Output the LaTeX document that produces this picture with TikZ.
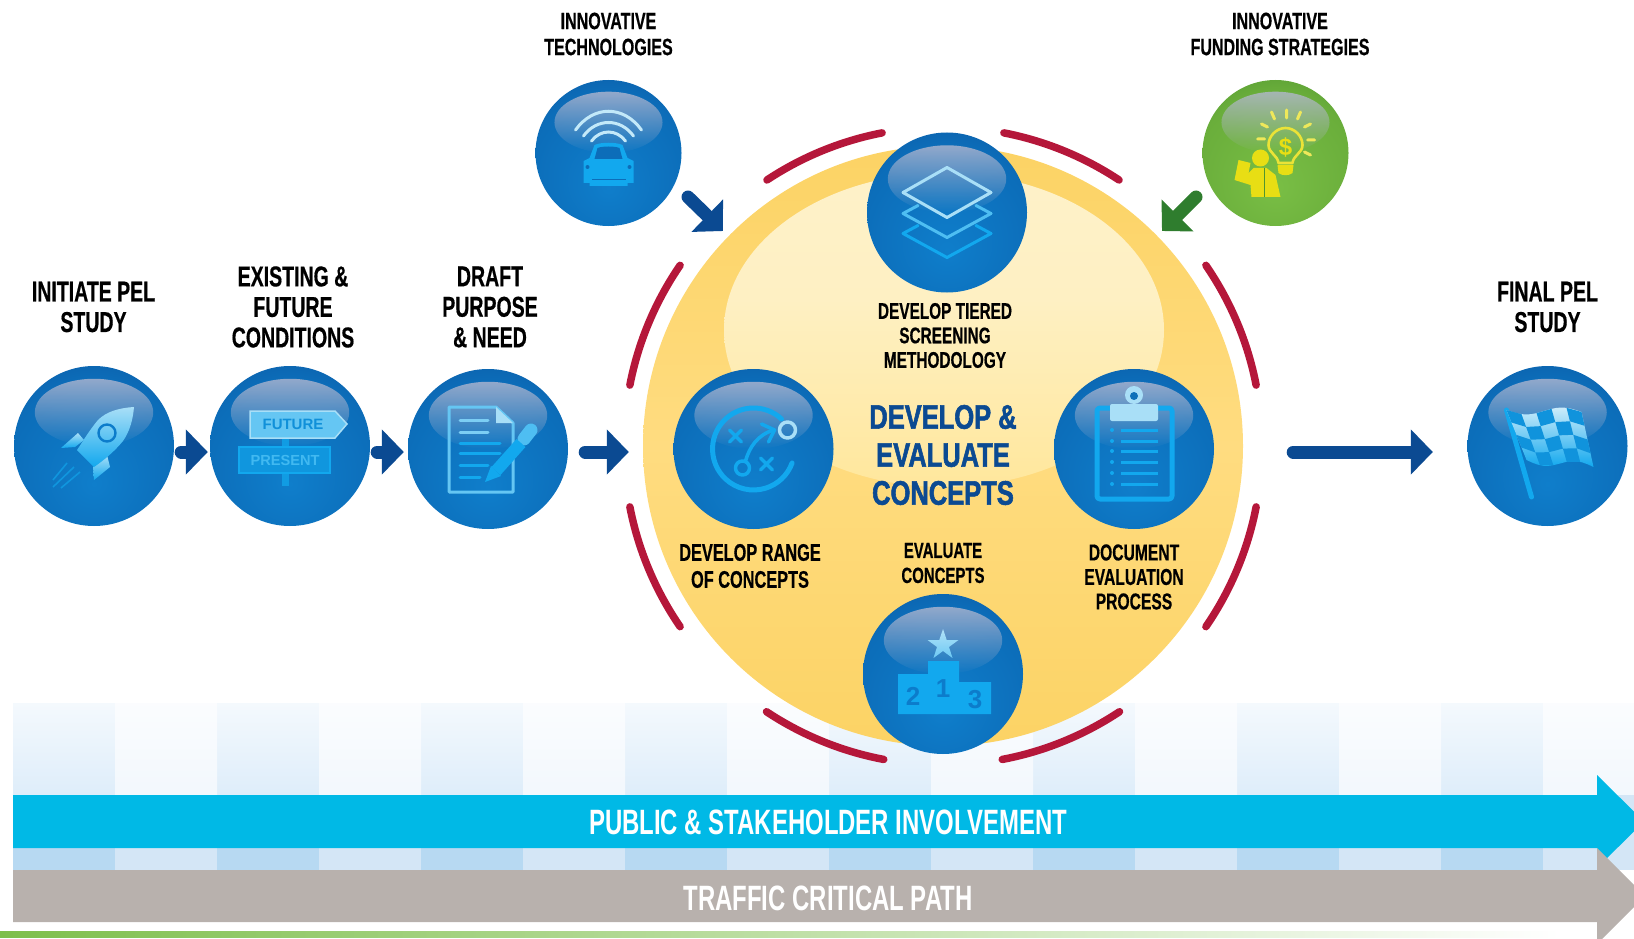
\documentclass[tikz,border=0pt]{standalone}
\usepackage{fontspec}
\usetikzlibrary{arrows.meta,fadings,calc}
\newfontfamily\lab[FakeStretch=0.68,FakeBold=0.5]{Liberation Sans Bold}
\newfontfamily\ttl[FakeStretch=0.75,FakeBold=1.6]{Liberation Sans Bold}
\newfontfamily\bnd[FakeStretch=0.68]{Liberation Sans Bold}
\newfontfamily\sgn{Liberation Sans Bold}
\definecolor{navy}{HTML}{0B4A92}
\definecolor{greenarrow}{HTML}{2F7D2E}
\definecolor{redarc}{HTML}{B5173A}
\definecolor{cyanband}{HTML}{00B9E6}
\definecolor{grayband}{HTML}{B8B1AD}
\definecolor{iconhi}{HTML}{A9DFF7}
\definecolor{iconlo}{HTML}{12A8EE}
\definecolor{icondk}{HTML}{0C7CCB}
\definecolor{yel}{HTML}{E8DE14}
\definecolor{glossc}{HTML}{B4B8D0}
\definecolor{ba}{HTML}{0F7ECB}
\definecolor{bb}{HTML}{0C6DB9}
\definecolor{bc}{HTML}{0B58A3}
\definecolor{bd}{HTML}{0A4A90}
\definecolor{ga}{HTML}{79BE45}
\definecolor{gb}{HTML}{6AAE3B}
\definecolor{gc}{HTML}{4F9530}
\definecolor{gd}{HTML}{2F7D2E}
\definecolor{stw}{HTML}{FFFFFF}
\definecolor{stda}{HTML}{D3E7F8}
\definecolor{stdb}{HTML}{B7D9F2}
\definecolor{stla}{HTML}{EEF5FC}
\definecolor{stlb}{HTML}{D4E6F6}
\definecolor{ya}{HTML}{FBD15F}
\definecolor{yb}{HTML}{FFDC80}
\definecolor{ea}{HTML}{FDF3D0}
\definecolor{eb}{HTML}{FEF0C3}
\definecolor{ec}{HTML}{FFE8A0}
\definecolor{greenline}{HTML}{7DBF4B}
\pgfdeclareradialshading{ballblue}{\pgfpoint{0bp}{-12bp}}{color(0bp)=(ba); color(28bp)=(bb); color(40bp)=(bc); color(52bp)=(bd); color(70bp)=(bd)}
\pgfdeclareradialshading{ballgreen}{\pgfpoint{0bp}{-12bp}}{color(0bp)=(ga); color(28bp)=(gb); color(40bp)=(gc); color(52bp)=(gd); color(70bp)=(gd)}
\pgfdeclareverticalshading{stripedark}{100bp}{color(0bp)=(stda); color(100bp)=(stw)}
\pgfdeclareverticalshading{stripelight}{100bp}{color(0bp)=(stla); color(100bp)=(stw)}
\pgfdeclareverticalshading{bigyellow}{100bp}{color(0bp)=(ya); color(20bp)=(ya); color(50bp)=(yb); color(80bp)=(ya); color(100bp)=(ya)}
\pgfdeclareverticalshading{innerglow}{100bp}{color(0bp)=(yb); color(28bp)=(ec); color(55bp)=(eb); color(100bp)=(ea)}
\tikzset{
  ball/.style={circle,inner sep=0pt,minimum size=160pt,shade,shading=ballblue},
  smallball/.style={ball,minimum size=146pt},
  greenball/.style={smallball,shading=ballgreen},
  flow/.style={draw=navy,line width=13pt,line cap=round,-{Triangle[length=22pt,width=44pt]}},
  flowg/.style={flow,draw=greenarrow},
  redseg/.style={draw=redarc,line width=7.5pt,line cap=round},
  bigl/.style={align=center,inner sep=0pt,text=black,font=\lab\fontsize{28.7}{30.5}\selectfont},
  smalll/.style={align=center,inner sep=0pt,text=black,font=\lab\fontsize{22.6}{24.5}\selectfont},
  topl/.style={align=center,inner sep=0pt,text=black,font=\lab\fontsize{23.6}{26}\selectfont},
  titlel/.style={align=center,inner sep=0pt,text=navy,font=\ttl\fontsize{34}{38}\selectfont},
  bandl/.style={inner sep=0pt,text=white,font=\bnd\fontsize{35.2}{36}\selectfont},
  ico/.style={top color=iconhi,bottom color=iconlo},
  icl/.style={draw=iconlo,line width=3.5pt,line cap=round,line join=round},
  ich/.style={draw=iconhi,line width=3.5pt,line cap=round,line join=round},
}
\newcommand{\glossy}[2]{\fill[glossc,fill opacity=.8,path fading=south] ([yshift=#2*0.42pt]#1.center) ellipse [x radius=#2*0.74,y radius=#2*0.42];}
\begin{document}
\begin{tikzpicture}[x=1pt,y=-1pt,
  declare function={fx(\u,\v)=(1-\v)*(-41+75*\u)+\v*(-21+67*\u);
                    fy(\u,\v)=(1-\v)*(-36+2*\u)+\v*(14+7*\u)+4*sin(360*\u);}]
\useasboundingbox (0,0) rectangle (1634,939);
\clip (0,0) rectangle (1634,939);
% background stripes
\foreach \k in {0,2,...,14}{
  \shade[shading=stripedark] ({13+102*\k},703) rectangle ({115+102*\k},795);
  \fill[stdb] ({13+102*\k},795) rectangle ({115+102*\k},870);
}
\foreach \k in {1,3,...,13}{
  \shade[shading=stripelight] ({13+102*\k},703) rectangle ({115+102*\k},795);
  \fill[stlb] ({13+102*\k},795) rectangle ({115+102*\k},870);
}
\shade[shading=stripelight] (1543,703) rectangle (1634,795);
\fill[stlb] (1543,795) rectangle (1634,870);
% green line
\shade[left color=greenline,right color=white] (0,931) rectangle (1560,937);
% bands
\fill[cyanband] (13,795) -- (1597,795) -- (1597,775) -- (1644,821.5) -- (1597,868) -- (1597,848) -- (13,848) -- cycle;
\fill[grayband] (13,870) -- (1597,870) -- (1597,848) -- (1645,896) -- (1597,944) -- (1597,922) -- (13,922) -- cycle;
\node[bandl] (pub) at (828,822) {PUBLIC \& STAKEHOLDER INVOLVEMENT};
\node[bandl] (traf) at (828,898) {TRAFFIC CRITICAL PATH};
% big circle
\node[circle,inner sep=0pt,minimum size=600pt,shade,shading=bigyellow] (big) at (943,446) {};
\shade[shading=innerglow] (944,330) ellipse [x radius=220,y radius=157];
\foreach \a/\b in {56.4/79.3,100.7/123.6,145.5/169,191/214.5,236.5/259,281/303.5,325.5/349,11/34.5}{
  \draw[redseg] (big.center) ++(\a:319) arc[start angle=\a,end angle=\b,radius=319];
}
% spheres
\node[ball] (s1) at (94,446) {};
\node[ball] (s2) at (290,446) {};
\node[ball] (s3) at (488,449) {};
\node[smallball] (tech) at (608.5,153) {};
\node[greenball] (fund) at (1275.5,153) {};
\node[ball] (tier) at (947,212.5) {};
\node[ball] (rng) at (753.5,449) {};
\node[ball] (docu) at (1134,449) {};
\node[ball] (evalc) at (943,674) {};
\node[ball] (fin) at (1547.5,446) {};
\foreach \n in {s1,s2,s3,tier,rng,docu,evalc,fin}{\glossy{\n}{80}}
\glossy{tech}{73}
\glossy{fund}{73}
% connectors
\draw[flow,shorten <=7pt,shorten >=2pt] ([yshift=-6pt]s1.east) -- ([yshift=-6pt]s2.west);
\draw[flow,shorten <=7pt,shorten >=4pt] ([yshift=-6pt]s2.east) -- ([yshift=-3pt]s3.west);
\draw[flow,shorten <=17pt,shorten >=14pt] ([yshift=-3pt]s3.east) -- ([yshift=-6pt]big.west);
\draw[flow,shorten <=50pt,shorten >=34.5pt] ([yshift=-6pt]big.east) -- ([yshift=-6pt]fin.west);
\coordinate (techa) at (688,197);
\coordinate (techb) at (723,231);
\coordinate (funda) at (1196,197);
\coordinate (fundb) at (1162,231);
\draw[flow] (techa) -- (techb);
\draw[flowg] (funda) -- (fundb);
% labels
\node[bigl] (l1) at (93.5,307) {INITIATE PEL\\STUDY};
\node[bigl] (l2) at (293,307) {EXISTING \&\\FUTURE\\CONDITIONS};
\node[bigl] (l3) at (490,307) {DRAFT\\PURPOSE\\\& NEED};
\node[bigl] (l10) at (1547.5,307) {FINAL PEL\\STUDY};
\node[topl] (l4) at (608.5,34) {INNOVATIVE\\TECHNOLOGIES};
\node[topl] (l5) at (1280,34) {INNOVATIVE\\FUNDING STRATEGIES};
\node[smalll] (l6) at (945,335.5) {DEVELOP TIERED\\SCREENING\\METHODOLOGY};
\node[titlel] (ttl) at (943,455) {DEVELOP \&\\EVALUATE\\CONCEPTS};
\node[smalll,font=\lab\fontsize{24}{27}\selectfont] (l7) at (750,566) {DEVELOP RANGE\\OF CONCEPTS};
\node[smalll,font=\lab\fontsize{22}{25}\selectfont] (l9) at (943,563) {EVALUATE\\CONCEPTS};
\node[smalll,font=\lab\fontsize{23}{24.5}\selectfont] (l8) at (1134,577) {DOCUMENT\\EVALUATION\\PROCESS};
% ---- rocket
\begin{scope}[shift={(s1)}]
\draw[draw=iconlo!70!bb,line width=1.6pt] (-20,21) -- (-41,41) (-27,17) -- (-41,34) (-14,26) -- (-33,42);
\shade[ico] (-16,-13) -- (-33,2) -- (-19,1) -- (-10,-6) -- cycle;
\shade[ico] (13,9) -- (16,21) -- (0,34) -- (-1,21) -- cycle;
\shade[ico] (40,-39) .. controls (24,-38) and (12,-34) .. (4,-26) .. controls (-6,-14) and (-12,-3) .. (-17,4) -- (0,21) .. controls (10,14) and (20,6) .. (29,-5) .. controls (36,-15) and (39,-27) .. (40,-39) -- cycle;
\draw[draw=icondk,line width=2.4pt] (13,-13) circle [radius=8.5];
\end{scope}
% ---- signpost
\begin{scope}[shift={(s2)}]
\fill[iconlo!80!bb] (-8,-8) rectangle (-1,1);
\fill[iconlo!80!bb] (-8,27) rectangle (-1,40);
\fill[fill=iconlo!45!iconhi,draw=iconhi,line width=1.5pt] (-40,-35) -- (45,-35) -- (57,-22) -- (45,-8) -- (-40,-8) -- cycle;
\fill[fill=iconlo!70!bb,draw=iconlo,line width=1.5pt] (-51,1) rectangle (40,27);
\node[text=iconlo!60!bb,font=\sgn\fontsize{15}{15}\selectfont,inner sep=0pt] (futxt) at (3,-21.5) {FUTURE};
\node[text=iconlo!80!white,font=\sgn\fontsize{14.6}{15}\selectfont,inner sep=0pt] (pretxt) at (-5,14) {PRESENT};
\end{scope}
% ---- document
\begin{scope}[shift={(s3)}]
\draw[draw=iconhi!55!iconlo,line width=3pt,line join=round] (-39,-42) -- (8,-42) -- (25,-26) -- (25,43) -- (-39,43) -- cycle;
\fill[iconhi] (8,-42) -- (25,-26) -- (8,-26) -- cycle;
\draw[draw=iconhi!70!iconlo,line width=3pt,line cap=round] (-28,-29) -- (0,-29) (-28,-17) -- (0,-17);
\draw[draw=iconlo,line width=3pt,line cap=round] (-28,-6) -- (12,-6) (-28,4) -- (12,4) (-28,16) -- (0,16) (-28,28) -- (-8,28);
\draw[draw=iconhi!40!iconlo,line width=13pt,line cap=round] (43,-19) -- (36,-10);
\draw[draw=iconlo,line width=12pt] (33,-6) -- (8,22);
\fill[iconlo] (3,17) -- (13,27) -- (-3,33) -- cycle;
\end{scope}
% ---- layers
\begin{scope}[shift={(tier)}]
\draw[draw=iconlo,line width=3pt,line join=round,line cap=round] (-29,13) -- (-44,21) -- (0,45) -- (44,21) -- (29,13);
\draw[draw=iconlo!60!iconhi,line width=3pt,line join=round,line cap=round] (-29,-7) -- (-44,1) -- (0,25) -- (44,1) -- (29,-7);
\draw[draw=iconhi,line width=3pt,line join=round] (0,-45) -- (44,-20) -- (0,5) -- (-44,-20) -- cycle;
\end{scope}
% ---- playbook
\begin{scope}[shift={(rng)}]
\draw[icl,line width=5pt] (28,-30) arc[start angle=-47,end angle=-340,radius=41];
\draw[ich] (34,-19) circle [radius=8];
\draw[icl] (-24,-19) -- (-12,-7) (-12,-19) -- (-24,-7);
\draw[icl] (7,9) -- (19,21) (19,9) -- (7,21);
\draw[icl] (-11,19) circle [radius=7];
\draw[icl] (-8,12) .. controls (-4,-2) and (4,-14) .. (20,-19);
\draw[icl] (8,-25) -- (21,-19) -- (15,-7);
\end{scope}
% ---- clipboard
\begin{scope}[shift={(docu)}]
\draw[draw=iconlo,line width=5pt,line join=round,rounded corners=3pt] (-23,-41) -- (-37,-41) -- (-37,50) -- (38,50) -- (38,-41) -- (23,-41);
\fill[iconhi,rounded corners=2pt] (-24,-45) rectangle (24,-28);
\fill[iconhi] (0,-54) circle [radius=9];
\fill[bc!70!iconlo] (0,-53) circle [radius=4];
\draw[draw=iconlo,line width=3pt] \foreach \yy in {-19,-8,2,13,24,35}{(-13,\yy) -- (24,\yy)};
\fill[iconlo] \foreach \yy in {-19,-8,2,13,24,35}{(-22,\yy) circle [radius=2]};
\end{scope}
% ---- podium
\begin{scope}[shift={(evalc)}]
\shade[ico,top color=iconhi!90!white,bottom color=iconhi!60!iconlo] (0,-45) -- (3.7,-34) -- (15.5,-34) -- (6,-27) -- (9.5,-16) -- (0,-23) -- (-9.5,-16) -- (-6,-27) -- (-15.5,-34) -- (-3.7,-34) -- cycle;
\fill[iconlo] (-45,0) -- (-15,0) -- (-15,-13) -- (16,-13) -- (16,8) -- (48,8) -- (48,40) -- (-45,40) -- cycle;
\node[text=icondk,font=\sgn\fontsize{26}{26}\selectfont,inner sep=0pt] (n2) at (-30,22) {2};
\node[text=icondk,font=\sgn\fontsize{26}{26}\selectfont,inner sep=0pt] (n1) at (0,15) {1};
\node[text=icondk,font=\sgn\fontsize{26}{26}\selectfont,inner sep=0pt] (n3) at (32,26) {3};
\end{scope}
% ---- car
\begin{scope}[shift={(tech)}]
\draw[draw=iconhi!70!white,line width=3pt,line cap=round] (-33,-23) .. controls (-15,-48) and (15,-48) .. (33,-23);
\draw[draw=iconhi!70!white,line width=3pt,line cap=round] (-25,-17) .. controls (-12,-35) and (12,-35) .. (25,-17);
\draw[draw=iconhi!70!white,line width=3pt,line cap=round] (-17,-12) .. controls (-8,-24) and (8,-24) .. (17,-12);
\fill[iconlo] (-14,-8) .. controls (-8,-11) and (8,-11) .. (14,-8) -- (19,5) -- (25,8) -- (25,30) -- (19,30) -- (19,33) -- (-19,33) -- (-19,30) -- (-25,30) -- (-25,8) -- (-19,5) -- cycle;
\fill[bb] (-11,-5) .. controls (-6,-7) and (6,-7) .. (11,-5) -- (14,6) -- (-14,6) -- cycle;
\fill[bb] (-21,14) circle [radius=2] (21,14) circle [radius=2];
\fill[bb] (-17,26) rectangle (17,27.5);
\end{scope}
% ---- bulb and person
\begin{scope}[shift={(fund)}]
\draw[draw=yel!85!white,line width=2.6pt,line join=round] (3,10) .. controls (2,2) and (-7,0) .. (-7,-8) .. controls (-7,-17) and (1,-25) .. (10,-25) .. controls (19,-25) and (27,-17) .. (27,-8) .. controls (27,0) and (18,2) .. (17,10) -- cycle;
\fill[yel] (2,12) -- (18,12) -- (17,20) .. controls (13,23) and (7,23) .. (3,20) -- cycle;
\node[text=yel,font=\sgn\fontsize{24}{24}\selectfont,inner sep=0pt] (dol) at (10,-6) {\$};
\draw[draw=yel!70!white,line width=3pt,line cap=round]
 (11,-43) -- (11,-35) (-4,-41) -- (-1,-34) (25,-41) -- (22,-34) (-14,-29) -- (-8,-26) (35,-29) -- (29,-26)
 (-18,-14) -- (-11,-14) (39,-13) -- (32,-13) (35,2) -- (29,-1);
\fill[yel] (-15,5) circle [radius=8.5];
\fill[yel] (-37,7) -- (-41,27) -- (-25,32) -- (-24,44) -- (5,44) -- (0,22) -- (-9,15) -- (-22,15) -- (-27,20) -- (-25,10) -- cycle;
\draw[draw=gc,line width=1.2pt] (-11,15) -- (-11,44);
\end{scope}
% ---- flag
\begin{scope}[shift={(fin)}]
\draw[draw=iconlo,line width=5pt,line cap=round] (-41,-36) -- (-16,51);
\shade[top color=iconhi!60!white,bottom color=iconlo] plot[domain=0:1,samples=13] ({fx(\x,0)},{fy(\x,0)}) -- plot[domain=1:0,samples=13] ({fx(\x,1)},{fy(\x,1)}) -- cycle;
\foreach \i in {0,...,4}{\foreach \j in {0,...,3}{
  \pgfmathtruncatemacro{\pp}{mod(\i+\j,2)}
  \ifnum\pp=0
  \fill[iconlo!65!bb] ({fx(\i/5,\j/4)},{fy(\i/5,\j/4)}) -- ({fx((\i+1)/5,\j/4)},{fy((\i+1)/5,\j/4)}) -- ({fx((\i+1)/5,(\j+1)/4)},{fy((\i+1)/5,(\j+1)/4)}) -- ({fx(\i/5,(\j+1)/4)},{fy(\i/5,(\j+1)/4)}) -- cycle;
  \fi
}}
\end{scope}
\end{tikzpicture}
\end{document}
